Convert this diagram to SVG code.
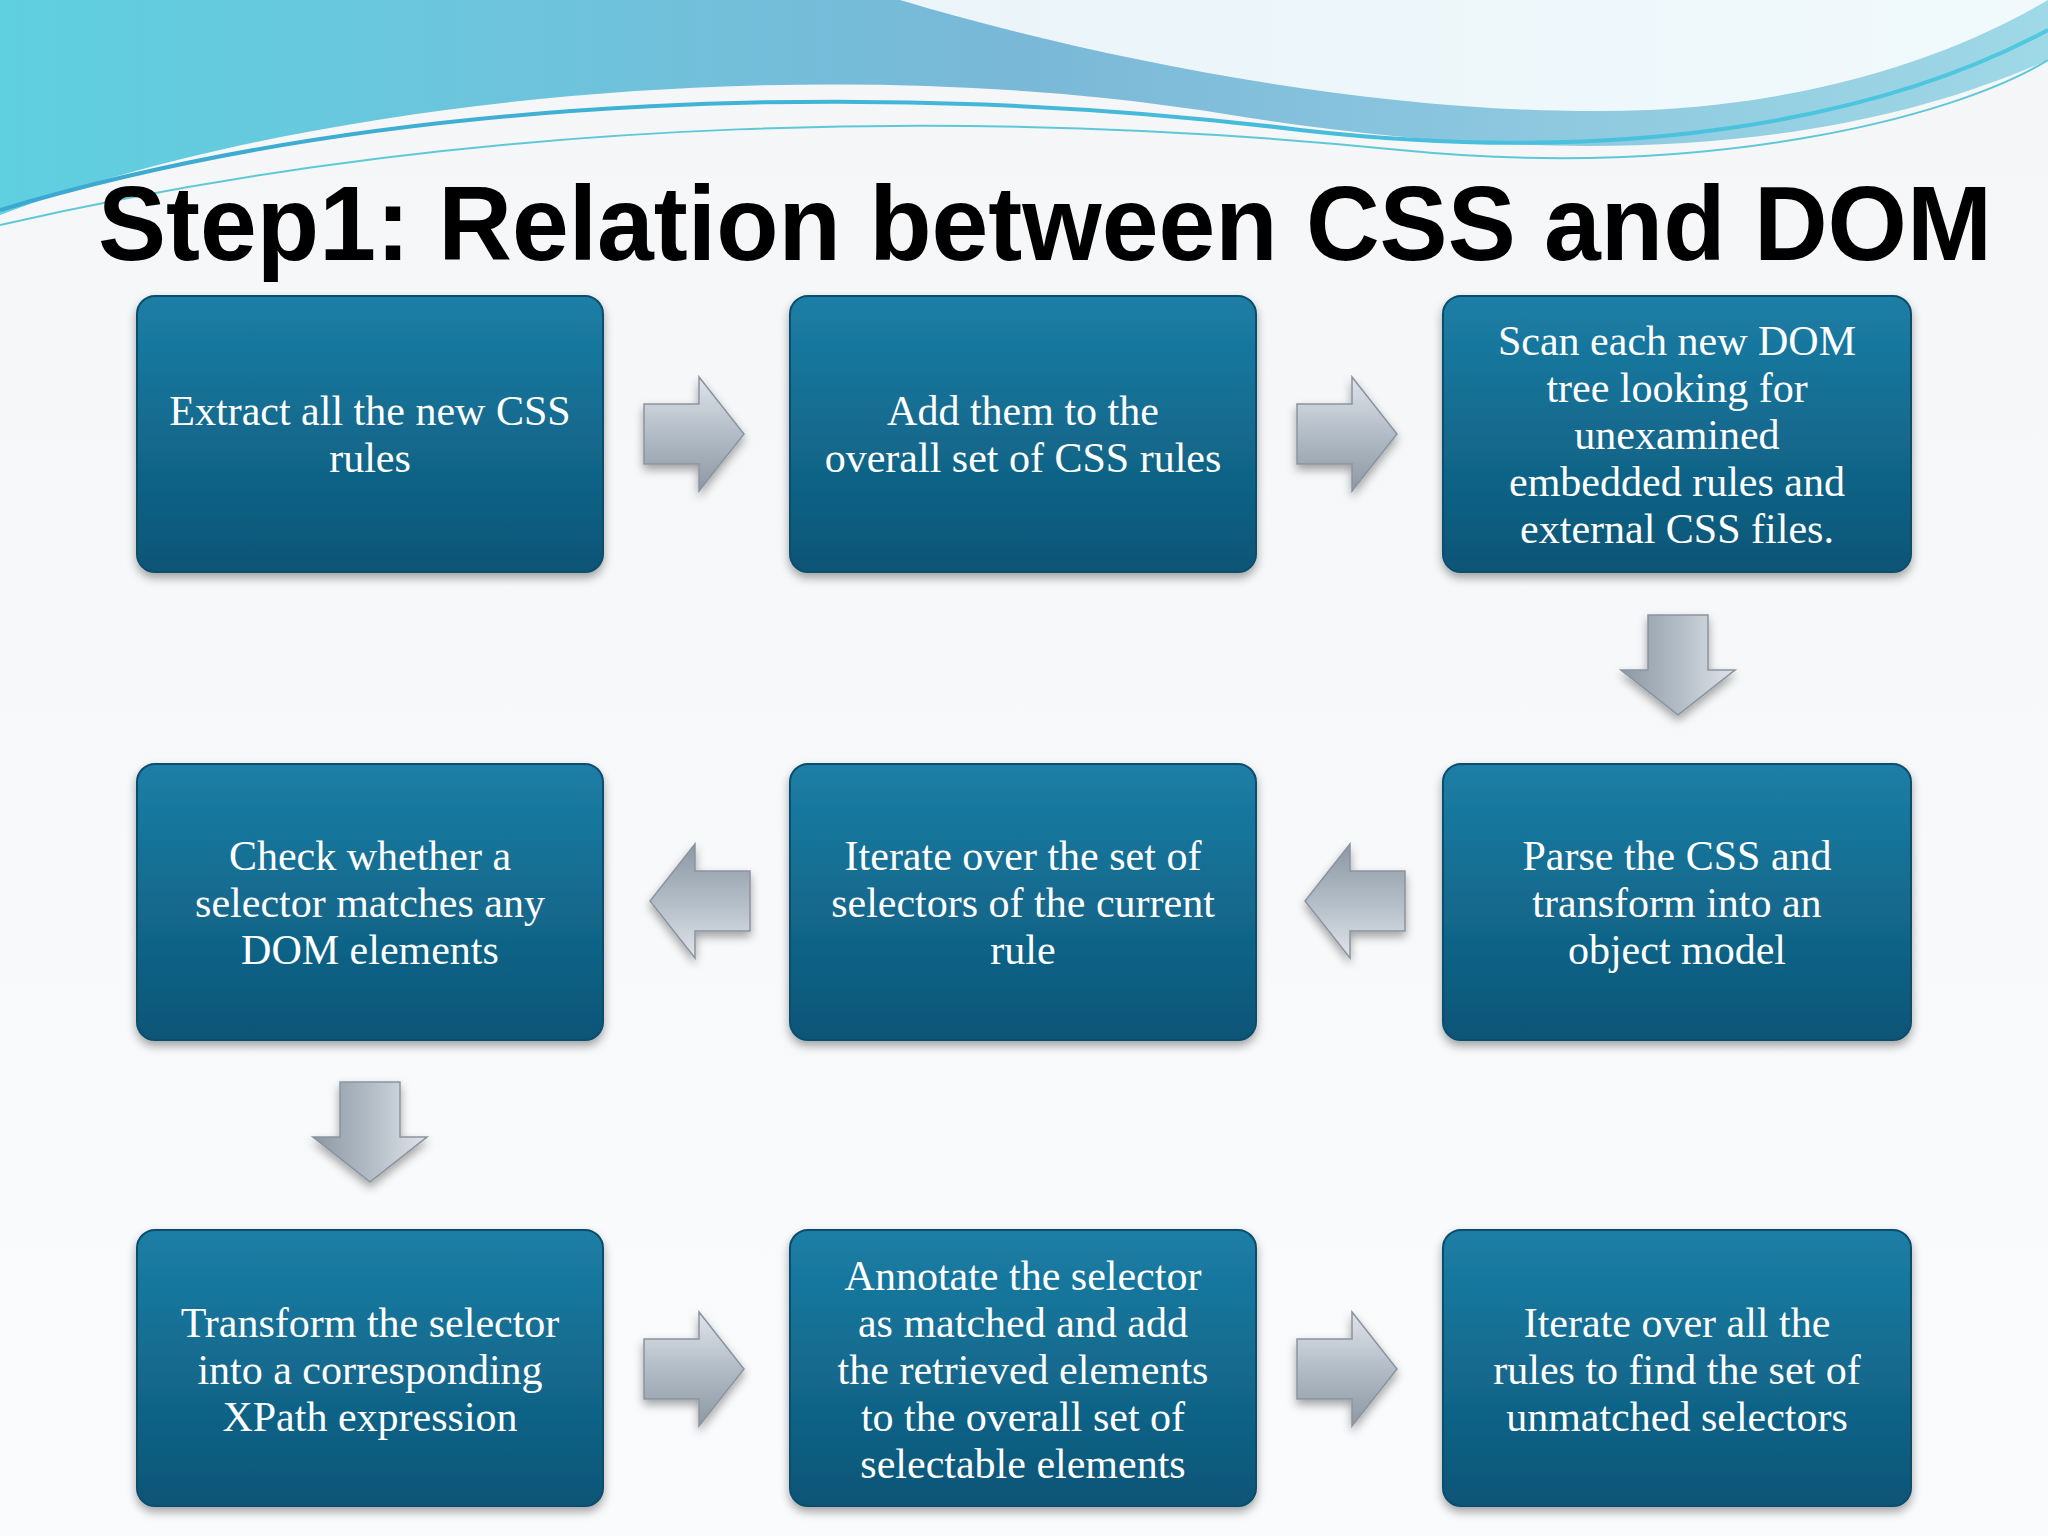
<svg xmlns="http://www.w3.org/2000/svg" width="2048" height="1536" viewBox="0 0 2048 1536">
<defs>
<linearGradient id="bg" x1="0" y1="0" x2="0" y2="1"><stop offset="0" stop-color="#f4f6f8"/><stop offset="1" stop-color="#fafbfc"/></linearGradient>
<linearGradient id="wave1" x1="0" y1="0" x2="1" y2="0"><stop offset="0" stop-color="#5fd0e0"/><stop offset="0.5" stop-color="#7ab8d8"/><stop offset="1" stop-color="#9fd8e6"/></linearGradient>
<linearGradient id="wave2" x1="0" y1="0" x2="1" y2="0"><stop offset="0" stop-color="#3aa8d0"/><stop offset="1" stop-color="#4fc8e0"/></linearGradient>
<linearGradient id="box" x1="0" y1="0" x2="0" y2="1"><stop offset="0" stop-color="#1c7ea6"/><stop offset="0.5" stop-color="#136a8e"/><stop offset="1" stop-color="#0b5576"/></linearGradient>
<linearGradient id="arr" x1="0" y1="0" x2="0" y2="1"><stop offset="0" stop-color="#dfe4ea"/><stop offset="0.5" stop-color="#b2bcc6"/><stop offset="1" stop-color="#8d98a4"/></linearGradient>
<filter id="sh" x="-10%" y="-10%" width="120%" height="125%"><feDropShadow dx="0" dy="5" stdDeviation="5" flood-color="#000" flood-opacity="0.35"/></filter>
<path id="ar" d="M-50,-30 H5 V-57 L50,0 L5,57 V30 H-50 Z" fill="url(#arr)" stroke="#8a949e" stroke-width="1.5"/>
</defs>
<style>
.t{font-family:"Liberation Serif","DejaVu Serif",serif;font-size:42px;fill:#ffffff;text-anchor:middle}
.b{fill:url(#box);stroke:#0a4d6c;stroke-width:2}
</style>
<rect width="2048" height="1536" fill="url(#bg)"/>
<path d="M0,0 H2048 V60 C1800,170 1500,160 1200,110 C800,50 300,100 0,215 Z" fill="url(#wave1)"/>
<path d="M900,0 C1100,60 1400,120 1650,110 C1850,100 1980,40 2048,0 Z" fill="#ffffff" opacity="0.85"/>
<path d="M0,210 C400,90 900,80 1300,130 C1650,170 1900,110 2048,30" fill="none" stroke="url(#wave2)" stroke-width="4"/>
<path d="M0,225 C500,110 1000,110 1400,150 C1700,180 1950,120 2048,60" fill="none" stroke="#5ec8d8" stroke-width="2"/>
<text x="98" y="260" font-family="Liberation Sans,Arial,sans-serif" font-weight="bold" font-size="106" textLength="1894" lengthAdjust="spacingAndGlyphs" fill="#000">Step1: Relation between CSS and DOM</text>
<g id="n1"><rect class="b" x="137" y="296" width="466" height="276" rx="18" filter="url(#sh)"/><text class="t" x="370" y="425">Extract all the new CSS</text><text class="t" x="370" y="472">rules</text></g>
<g id="n2"><rect class="b" x="790" y="296" width="466" height="276" rx="18" filter="url(#sh)"/><text class="t" x="1023" y="425">Add them to the</text><text class="t" x="1023" y="472">overall set of CSS rules</text></g>
<g id="n3"><rect class="b" x="1443" y="296" width="468" height="276" rx="18" filter="url(#sh)"/><text class="t" x="1677" y="355">Scan each new DOM</text><text class="t" x="1677" y="402">tree looking for</text><text class="t" x="1677" y="449">unexamined</text><text class="t" x="1677" y="496">embedded rules and</text><text class="t" x="1677" y="543">external CSS files.</text></g>
<g id="n4"><rect class="b" x="1443" y="764" width="468" height="276" rx="18" filter="url(#sh)"/><text class="t" x="1677" y="870">Parse the CSS and</text><text class="t" x="1677" y="917">transform into an</text><text class="t" x="1677" y="964">object model</text></g>
<g id="n5"><rect class="b" x="790" y="764" width="466" height="276" rx="18" filter="url(#sh)"/><text class="t" x="1023" y="870">Iterate over the set of</text><text class="t" x="1023" y="917">selectors of the current</text><text class="t" x="1023" y="964">rule</text></g>
<g id="n6"><rect class="b" x="137" y="764" width="466" height="276" rx="18" filter="url(#sh)"/><text class="t" x="370" y="870">Check whether a</text><text class="t" x="370" y="917">selector matches any</text><text class="t" x="370" y="964">DOM elements</text></g>
<g id="n7"><rect class="b" x="137" y="1230" width="466" height="276" rx="18" filter="url(#sh)"/><text class="t" x="370" y="1337">Transform the selector</text><text class="t" x="370" y="1384">into a corresponding</text><text class="t" x="370" y="1431">XPath expression</text></g>
<g id="n8"><rect class="b" x="790" y="1230" width="466" height="276" rx="18" filter="url(#sh)"/><text class="t" x="1023" y="1290">Annotate the selector</text><text class="t" x="1023" y="1337">as matched and add</text><text class="t" x="1023" y="1384">the retrieved elements</text><text class="t" x="1023" y="1431">to the overall set of</text><text class="t" x="1023" y="1478">selectable elements</text></g>
<g id="n9"><rect class="b" x="1443" y="1230" width="468" height="276" rx="18" filter="url(#sh)"/><text class="t" x="1677" y="1337">Iterate over all the</text><text class="t" x="1677" y="1384">rules to find the set of</text><text class="t" x="1677" y="1431">unmatched selectors</text></g>
<g id="connectors" filter="url(#sh)">
<use href="#ar" transform="translate(694,434)"/>
<use href="#ar" transform="translate(1347,434)"/>
<use href="#ar" transform="translate(1678,665) rotate(90)"/>
<use href="#ar" transform="translate(1355,901) rotate(180)"/>
<use href="#ar" transform="translate(700,901) rotate(180)"/>
<use href="#ar" transform="translate(370,1132) rotate(90)"/>
<use href="#ar" transform="translate(694,1369)"/>
<use href="#ar" transform="translate(1347,1369)"/>
</g>
</svg>
